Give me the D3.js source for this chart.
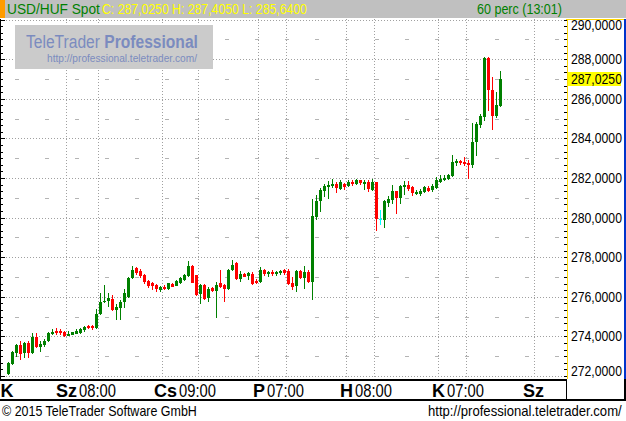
<!DOCTYPE html>
<html><head><meta charset="utf-8">
<script src="https://cdn.jsdelivr.net/npm/d3@7"></script>
<style>
html,body{margin:0;padding:0;background:#fff;}
svg{display:block;font-family:"Liberation Sans",Arial,sans-serif;}
</style></head>
<body>
<svg id="chart" width="626" height="421"></svg>
<script>
// ---- data ----
const instrument = "USD/HUF Spot";
const periodLabel = "60 perc (13:01)";
const opens = [272.15,272.66,273.23,273.57,273.20,273.67,273.23,273.99,273.50,273.62,273.81,274.19,274.29,274.28,274.24,274.09,274.14,274.19,274.24,274.35,274.51,274.51,274.46,275.19,275.78,275.83,275.91,275.37,275.47,275.78,276.02,276.99,277.46,277.28,277.09,276.79,276.69,276.60,276.37,276.49,276.45,276.67,276.62,276.76,276.91,277.08,277.55,277.08,276.18,276.60,275.98,276.44,276.32,276.69,276.59,276.44,277.40,277.70,276.94,277.16,277.09,277.16,276.82,276.79,277.35,277.19,277.23,277.21,277.23,277.33,277.28,276.72,276.62,277.28,277.02,277.24,276.79,280.08,280.90,281.38,281.60,281.63,281.71,281.51,281.71,281.66,281.81,281.75,281.88,281.76,281.80,281.46,281.78,279.95,279.94,280.79,280.92,281.33,281.04,281.58,281.63,281.53,281.22,281.26,281.34,281.49,281.46,281.54,281.85,281.93,282.02,282.13,282.79,282.86,282.81,282.76,282.72,283.87,284.71,285.14,288.04,286.43,285.17,285.68];
const highs = [272.73,273.28,273.64,273.79,273.74,273.79,274.18,274.18,273.79,273.87,274.24,274.38,274.40,274.38,274.29,274.29,274.24,274.35,274.40,274.53,274.56,274.56,275.41,276.17,276.62,276.17,276.08,275.64,275.86,276.40,277.00,277.58,277.50,277.41,277.16,276.86,276.74,276.65,276.54,276.62,276.71,276.69,276.86,276.99,277.14,277.79,277.63,277.11,276.66,276.66,276.49,276.49,276.77,277.38,276.66,277.41,277.87,277.75,277.30,277.21,277.25,277.25,276.89,277.50,277.41,277.28,277.33,277.30,277.33,277.41,277.41,276.99,277.33,277.33,277.58,277.33,280.92,281.12,281.51,281.71,281.83,281.97,281.80,281.88,281.76,281.88,281.92,281.93,281.92,281.88,281.88,281.93,281.80,280.41,280.87,281.07,281.63,281.33,281.63,281.83,281.83,281.58,281.41,281.43,281.60,281.60,281.71,282.05,282.13,282.13,282.19,283.15,282.94,282.93,283.06,282.89,284.78,284.83,285.22,288.12,288.12,287.11,286.35,287.405];
const lows = [272.09,272.59,273.03,272.84,272.98,272.95,273.16,273.45,273.25,273.54,273.79,274.13,274.13,274.11,274.04,274.07,274.11,274.16,274.19,274.29,274.40,274.38,274.40,275.12,275.73,275.56,275.31,274.87,274.87,275.51,275.98,276.94,277.16,276.99,276.69,276.52,276.40,276.28,276.28,276.37,276.40,276.54,276.59,276.72,276.86,277.03,276.74,276.07,275.68,275.90,275.81,276.27,275.00,276.49,275.81,276.39,277.33,276.91,276.79,277.03,276.91,276.64,276.70,276.74,277.08,277.03,277.11,277.11,277.16,277.16,276.65,276.39,276.28,276.96,276.44,276.74,275.88,279.94,280.36,281.07,280.99,281.54,281.29,281.43,281.43,281.58,281.66,281.68,281.71,281.46,281.37,281.41,279.40,279.69,279.52,280.58,280.73,280.23,280.73,281.17,281.38,281.12,281.17,281.12,281.29,281.37,281.34,281.51,281.80,281.88,281.97,282.08,282.64,282.69,282.67,282.00,282.56,283.15,284.58,284.92,285.42,284.46,285.08,285.64];
const closes = [272.66,273.22,273.57,273.15,273.67,273.23,273.99,273.50,273.60,273.79,274.19,274.24,274.21,274.20,274.09,274.11,274.21,274.29,274.35,274.46,274.46,274.46,275.15,275.76,275.81,275.93,275.36,275.47,275.76,276.18,276.93,277.38,277.23,277.08,276.79,276.59,276.59,276.44,276.49,276.45,276.69,276.57,276.79,276.94,277.09,277.55,276.77,276.15,276.60,275.95,276.40,276.32,276.62,276.54,276.45,277.38,277.63,276.94,277.14,277.06,277.20,276.70,276.73,277.33,277.21,277.24,277.18,277.24,277.28,277.24,276.72,276.57,277.28,276.99,277.23,276.79,280.08,280.82,281.38,281.58,281.65,281.71,281.54,281.80,281.58,281.80,281.73,281.88,281.78,281.80,281.49,281.80,279.98,279.95,280.82,280.92,281.33,281.04,281.58,281.63,281.51,281.29,281.29,281.34,281.54,281.41,281.60,281.88,281.95,282.02,282.17,282.81,282.84,282.79,282.76,282.71,283.80,284.71,285.14,288.04,286.48,285.17,285.68,287.025];
// y axis ticks
const yTickValues = [290,288,286,284,282,280,278,276,274,272];
const yDashValues = [289,287,285,283,281,279,277,275,273];
// x grid (candle-index positions of day / session gridlines)
const xGridIdx = [14.25,22.25,38.25,47.25,62.25,69.25,84.25,91.25,107.25,114.25,131.25];
// x axis labels
const xLabelIdx = [-0.375,22.25,47.25,69.25,91.25,114.25,131.25];
const xLabelDay = ["K","Sz","Cs","P","H","K","Sz"];
const xLabelTime = ["","08:00","09:00","07:00","08:00","07:00",""];
const copyright = "© 2015 TeleTrader Software GmbH";
const siteUrl = "http://professional.teletrader.com/";

// ---- layout ----
const svg = d3.select("#chart");
const W = 626, H = 421;
const plot = {left:0, right:566, top:19, bottom:379};

const x = d3.scaleLinear().domain([0, 1]).range([8.5, 12.5]);
const y = d3.scaleLinear().domain([290, 272]).range([19.7, 376]);

const fmt = v => v.toFixed(4).replace(".", ",");

function fitText(parent, str, px, py, size, width, anchor, opts) {
  opts = opts || {};
  const t = parent.append("text").attr("x", 0).attr("y", 0).attr("font-size", size)
    .attr("fill", opts.fill || "#000");
  if (opts.weight) t.attr("font-weight", opts.weight);
  if (opts.build) opts.build(t); else t.text(str);
  const w = t.node().getComputedTextLength();
  const s = width / w;
  const x0 = anchor === "end" ? px - width : anchor === "middle" ? px - width / 2 : px;
  t.attr("transform", `translate(${x0},${py}) scale(${s},1)`);
  return t;
}

svg.append("rect").attr("width", W).attr("height", H).attr("fill", "#fff");

svg.append("clipPath").attr("id","pc").append("rect")
  .attr("x", plot.left).attr("y", plot.top).attr("width", plot.right - plot.left).attr("height", plot.bottom - plot.top);

const g = svg.append("g").attr("clip-path","url(#pc)").attr("shape-rendering","crispEdges");

g.selectAll("line.hg").data(yTickValues).join("line")
  .attr("x1", plot.left).attr("x2", plot.right)
  .attr("y1", d => Math.round(y(d)) + 0.5).attr("y2", d => Math.round(y(d)) + 0.5)
  .attr("stroke", "#a0a0a0").attr("stroke-dasharray", "1,2");
g.selectAll("line.hd").data(yDashValues).join("line")
  .attr("x1", plot.left + 15).attr("x2", plot.right)
  .attr("y1", d => Math.round(y(d)) + 0.5).attr("y2", d => Math.round(y(d)) + 0.5)
  .attr("stroke", "#b4b4b4").attr("stroke-width", 1).attr("stroke-dasharray", "4,26");
g.selectAll("line.vg").data(xGridIdx).join("line")
  .attr("x1", d => Math.round(x(d)) + 0.5).attr("x2", d => Math.round(x(d)) + 0.5)
  .attr("y1", plot.top).attr("y2", plot.bottom)
  .attr("stroke", "#a0a0a0").attr("stroke-dasharray", "1,2");

// logo
const logo = svg.append("g");
logo.append("rect").attr("x", 15).attr("y", 25).attr("width", 198).attr("height", 44).attr("fill", "#cbcbcb");
fitText(logo, null, 26, 48, 19, 172, "start", {fill: "#7b8bbf", build: t => {
  t.append("tspan").text("TeleTrader ");
  t.append("tspan").attr("font-weight", "bold").text("Professional");
}});
fitText(logo, siteUrl, 47, 62, 11, 150, "start", {fill: "#7b8bbf"});

// candles
const candles = opens.map((o, i) => ({i, o, h: highs[i], l: lows[i], c: closes[i]}));
const col = d => d.c > d.o ? "#008000" : (d.c < d.o ? "#ff0000" : "#00ffff");
const cg = g.append("g");
cg.selectAll("rect.wick").data(candles).join("rect")
  .attr("x", d => Math.round(x(d.i) - 0.5)).attr("width", 1)
  .attr("y", d => Math.round(y(d.h))).attr("height", d => Math.max(1, Math.round(y(d.l)) - Math.round(y(d.h)) + 1))
  .attr("fill", col);
cg.selectAll("rect.body").data(candles).join("rect")
  .attr("x", d => Math.round(x(d.i) - 1.5)).attr("width", 3)
  .attr("y", d => Math.round(y(Math.max(d.o, d.c))))
  .attr("height", d => Math.max(1, Math.round(y(Math.min(d.o, d.c))) - Math.round(y(Math.max(d.o, d.c))) + 1))
  .attr("fill", col);

// left axis ticks
const tickVals = d3.range(0, 55).map(k => 272 + k / 3);
const la = svg.append("g").attr("shape-rendering","crispEdges");
la.append("line").attr("x1", 0.5).attr("x2", 0.5).attr("y1", plot.top).attr("y2", plot.bottom).attr("stroke", "#000");
la.selectAll("line.t").data(tickVals).join("line")
  .attr("x1", 0).attr("x2", (d, k) => k % 6 === 0 ? 5 : 3)
  .attr("y1", d => Math.round(y(d)) + 0.5).attr("y2", d => Math.round(y(d)) + 0.5)
  .attr("stroke", "#000");

// header
const hdr = svg.append("g");
hdr.append("rect").attr("x", 0).attr("y", 0).attr("width", W).attr("height", 18).attr("fill", "#c0c0c0");
hdr.append("rect").attr("x", 0).attr("y", 0).attr("width", 5).attr("height", 18).attr("fill", "#ff9c00");
fitText(hdr, instrument, 7, 14, 15, 93, "start", {fill: "#008000"});
const last = candles[candles.length - 1];
fitText(hdr, `C: ${fmt(last.c)} H: ${fmt(last.h)} L: ${fmt(last.l)}`, 102, 14, 15, 205, "start", {fill: "#ffff00"});
fitText(hdr, periodLabel, 562, 14, 15, 85, "end", {fill: "#008000"});

// right axis panel
const ra = svg.append("g").attr("shape-rendering","crispEdges");
ra.append("line").attr("x1", 567.5).attr("x2", 567.5).attr("y1", plot.top).attr("y2", plot.bottom).attr("stroke", "#ffd800");
ra.append("line").attr("x1", 566).attr("x2", 626).attr("y1", plot.top + 0.5).attr("y2", plot.top + 0.5).attr("stroke", "#ffd800");
ra.append("rect").attr("x", 624).attr("y", plot.top).attr("width", 2).attr("height", plot.bottom - plot.top).attr("fill", "#0033cc");
ra.selectAll("line.t").data(tickVals).join("line")
  .attr("x1", 564).attr("x2", 567)
  .attr("y1", d => Math.round(y(d)) + 0.5).attr("y2", d => Math.round(y(d)) + 0.5)
  .attr("stroke", "#000");
const rl = svg.append("g");
yTickValues.forEach(v => {
  fitText(rl, fmt(v), 571, Math.min(Math.max(y(v), 25), 370.5) + 5, 14, 51, "start");
});
rl.append("rect").attr("x", 568).attr("y", Math.round(y(last.c)) - 7).attr("width", 53).attr("height", 14).attr("fill", "#ffff00");
fitText(rl, fmt(last.c), 571, y(last.c) + 5, 14, 51, "start");

// bottom axis
const ba = svg.append("g").attr("shape-rendering","crispEdges");
ba.append("rect").attr("x", 0).attr("y", plot.bottom).attr("width", 566).attr("height", 2).attr("fill", "#000");
ba.append("rect").attr("x", 0).attr("y", 399).attr("width", W).attr("height", 2).attr("fill", "#000");
ba.append("rect").attr("x", 566).attr("y", plot.bottom).attr("width", 1).attr("height", 21).attr("fill", "#000");
ba.append("rect").attr("x", 624).attr("y", plot.bottom).attr("width", 2).attr("height", 21).attr("fill", "#000");

const xl = svg.append("g");
xLabelIdx.forEach((idx, k) => {
  const cx = x(idx);
  if (xLabelTime[k]) {
    const tw = 37;
    fitText(xl, xLabelTime[k], cx, 397, 18, tw, "middle");
    xl.append("text").attr("x", cx - tw / 2 - 2).attr("y", 397).attr("font-size", 18).attr("font-weight", "bold")
      .attr("text-anchor", "end").attr("fill", "#000").text(xLabelDay[k]);
  } else {
    xl.append("text").attr("x", cx).attr("y", 397).attr("font-size", 18).attr("font-weight", "bold")
      .attr("text-anchor", "middle").attr("fill", "#000").text(xLabelDay[k]);
  }
});

// footer
fitText(svg, copyright, 2, 416, 14, 195, "start");
fitText(svg, siteUrl, 622, 416, 14, 194, "end");
</script>
</body></html>
